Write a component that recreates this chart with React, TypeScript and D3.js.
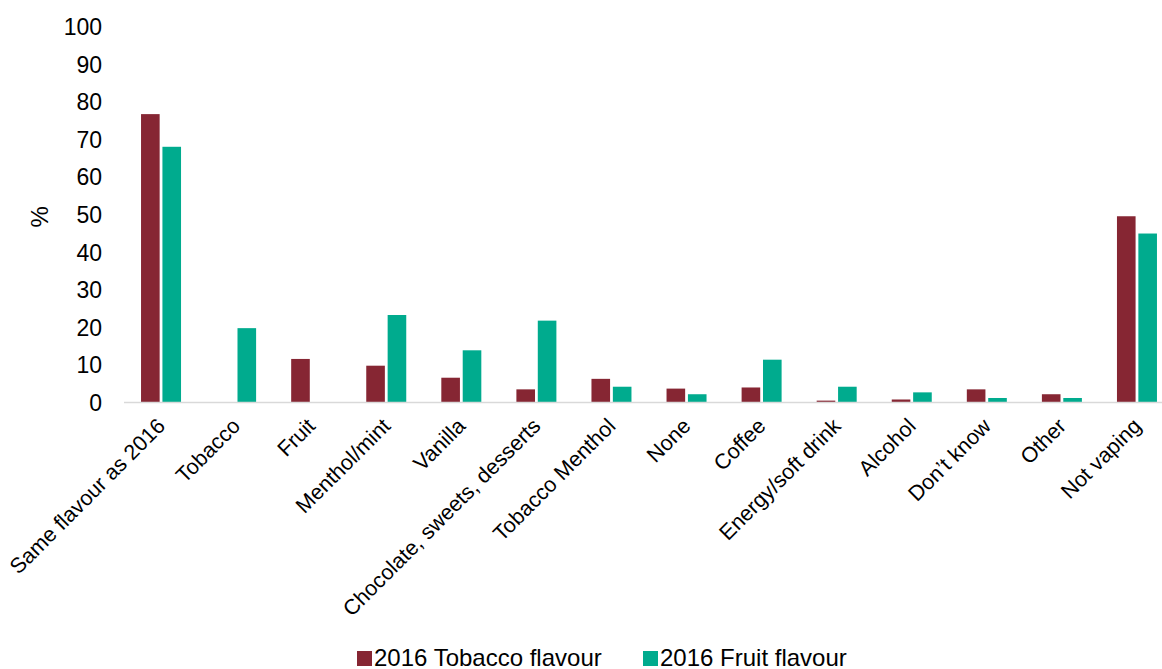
import React from "react";
import * as d3 from "d3";

const categories = [
  "Same flavour as 2016",
  "Tobacco",
  "Fruit",
  "Menthol/mint",
  "Vanilla",
  "Chocolate, sweets, desserts",
  "Tobacco Menthol",
  "None",
  "Coffee",
  "Energy/soft drink",
  "Alcohol",
  "Don\u2019t know",
  "Other",
  "Not vaping",
];
const tobaccoValues = [76.8, 0, 11.6, 9.8, 6.6, 3.5, 6.3, 3.7, 4.0, 0.5, 0.8, 3.5, 2.2, 49.6];
const fruitValues = [68.1, 19.8, 0, 23.3, 13.9, 21.8, 4.2, 2.2, 11.4, 4.2, 2.7, 1.2, 1.2, 45.0];
const seriesNames = ["2016 Tobacco flavour", "2016 Fruit flavour"];
const seriesColors = ["#862633", "#00AB8E"];
const yTicks = [0, 10, 20, 30, 40, 50, 60, 70, 80, 90, 100];

const W = 1162;
const H = 669;
const FONT = "'Liberation Sans', Arial, sans-serif";

export default function App() {
  const x = d3.scaleBand<string>().domain(categories).range([123.5, 1174.5]).padding(0);
  const y = d3.scaleLinear().domain([0, 100]).range([402.5, 27]);
  const xSub = d3.scaleBand<number>().domain([0, 1]).range([-20, 20]).paddingInner(0.13).paddingOuter(0);
  const seriesValues = [tobaccoValues, fruitValues];

  return (
    <svg
      width={W}
      height={H}
      style={{ position: "absolute", left: 0, top: 0, background: "#fff" }}
      fontFamily={FONT}
    >
      {yTicks.map((t) => (
        <text key={t} x={102} y={y(t)} dy="0.36em" textAnchor="end" fontSize={23} fill="#000">
          {t}
        </text>
      ))}
      <text
        transform={`translate(39,${(y(0) + y(100)) / 2 + 2}) rotate(-90)`}
        textAnchor="middle"
        dy="0.36em"
        fontSize={24}
        fill="#000"
      >
        %
      </text>
      {seriesValues.map((vals, si) =>
        vals.map((v, i) => {
          const cx = (x(categories[i]) as number) + x.bandwidth() / 2;
          const bx = cx + (xSub(si) as number);
          return (
            <rect
              key={`${si}-${i}`}
              x={bx}
              y={y(v)}
              width={xSub.bandwidth()}
              height={Math.max(0, y(0) - y(v))}
              fill={seriesColors[si]}
            />
          );
        })
      )}
      <line x1={124} x2={W} y1={y(0)} y2={y(0)} stroke="#d9d9d9" strokeWidth={1.5} />
      {categories.map((c) => {
        const cx = (x(c) as number) + x.bandwidth() / 2;
        return (
          <text
            key={c}
            transform={`translate(${cx - 6},416) rotate(-45)`}
            textAnchor="end"
            dy="0.75em"
            fontSize={21.5}
            fill="#000"
          >
            {c}
          </text>
        );
      })}
      {seriesNames.map((s, i) => {
        const lx = i === 0 ? 357 : 643;
        return (
          <g key={s}>
            <rect x={lx} y={651} width={15} height={15} fill={seriesColors[i]} />
            <text x={lx + 17} y={666} fontSize={24} fill="#000">
              {s}
            </text>
          </g>
        );
      })}
    </svg>
  );
}
